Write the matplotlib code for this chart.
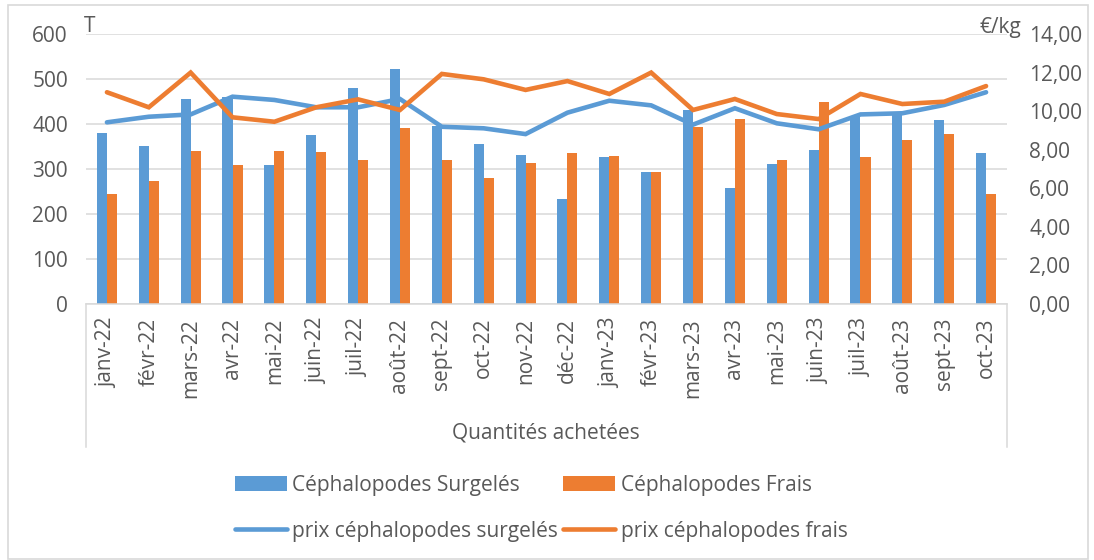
import numpy as np
import matplotlib
matplotlib.use("Agg")
import matplotlib.pyplot as plt
from matplotlib.lines import Line2D
from matplotlib.ticker import FuncFormatter

plt.rcParams["font.family"] = ["Open Sans", "DejaVu Sans"]

# ------------------------------------------------
# Données
# ------------------------------------------------
mois = ["janv-22", "févr-22", "mars-22", "avr-22", "mai-22", "juin-22", "juil-22",
        "août-22", "sept-22", "oct-22", "nov-22", "déc-22", "janv-23", "févr-23",
        "mars-23", "avr-23", "mai-23", "juin-23", "juil-23", "août-23", "sept-23", "oct-23"]

qte_surgeles = [379, 352, 455, 460, 308, 375, 480, 522, 395, 355, 332,
                233, 327, 293, 431, 258, 312, 342, 416, 420, 409, 335]
qte_frais = [244, 273, 341, 308, 341, 337, 319, 392, 319, 280, 314,
             336, 329, 293, 393, 411, 320, 450, 326, 364, 378, 244]

prix_surgeles = [9.42, 9.71, 9.83, 10.75, 10.58, 10.20, 10.20, 10.63, 9.19, 9.11, 8.81,
                 9.92, 10.54, 10.30, 9.30, 10.15, 9.37, 9.06, 9.83, 9.89, 10.32, 10.98]
prix_frais = [10.98, 10.20, 12.00, 9.68, 9.45, 10.20, 10.61, 10.06, 11.93, 11.65, 11.10,
              11.56, 10.89, 12.00, 10.06, 10.63, 9.85, 9.59, 10.89, 10.37, 10.49, 11.30]

BLEU = "#5B9BD5"
ORANGE = "#ED7D31"
GRIS_TXT = "#595959"
GRIS_LIGNE = "#D9D9D9"
FS = 15

# ------------------------------------------------
# Figure
# ------------------------------------------------
fig = plt.figure(figsize=(10.94, 5.6), dpi=100)
ax = fig.add_axes([86 / 1094, 1 - 304 / 560, (1007 - 86) / 1094, 270 / 560])
ax2 = ax.twinx()

x = np.arange(len(mois))
w = 0.24
b1 = ax.bar(x - w / 2, qte_surgeles, w, color=BLEU, label="Céphalopodes Surgelés", zorder=2)
b2 = ax.bar(x + w / 2, qte_frais, w, color=ORANGE, label="Céphalopodes Frais", zorder=2)

l1, = ax2.plot(x, prix_surgeles, color=BLEU, lw=3.3, solid_capstyle="round",
               solid_joinstyle="miter", label="prix céphalopodes surgelés")
l2, = ax2.plot(x, prix_frais, color=ORANGE, lw=3.3, solid_capstyle="round",
               solid_joinstyle="miter", label="prix céphalopodes frais")

ax.set_xlim(-0.5, len(mois) - 0.5)
ax.set_ylim(0, 600)
ax.set_yticks(range(0, 601, 100))
ax2.set_ylim(0, 14)
ax2.set_yticks(range(0, 15, 2))
ax2.yaxis.set_major_formatter(FuncFormatter(lambda v, p: f"{v:.2f}".replace(".", ",")))

ax.yaxis.grid(True, color=GRIS_LIGNE, lw=1.1, zorder=0)
ax.set_axisbelow(True)
for a in (ax, ax2):
    for s in a.spines.values():
        s.set_visible(False)
ax.spines["bottom"].set_visible(True)
ax.spines["bottom"].set_color(GRIS_LIGNE)
ax.spines["bottom"].set_linewidth(1.1)

ax.set_xticks(x)
ax.set_xticklabels(mois, rotation=90, fontsize=FS, color=GRIS_TXT)
ax.tick_params(axis="x", length=0, pad=10)
ax.tick_params(axis="y", length=0, pad=13, labelsize=FS, labelcolor=GRIS_TXT)
ax2.tick_params(axis="y", length=0, pad=16, labelsize=FS, labelcolor=GRIS_TXT)

# cadre de l'axe des catégories
for xp in (86, 1007):
    fig.add_artist(Line2D([xp / 1094, xp / 1094], [1 - 304 / 560, 1 - 447 / 560],
                          transform=fig.transFigure, color=GRIS_LIGNE, lw=1.1))
fig.text(546 / 1094, 1 - 433 / 560, "Quantités achetées", ha="center", va="center",
         fontsize=FS, color=GRIS_TXT)

# unités
fig.text(84 / 1094, 1 - 27 / 560, "T", ha="left", va="center", fontsize=FS, color=GRIS_TXT)
fig.text(1021 / 1094, 1 - 27 / 560, "€/kg", ha="right", va="center", fontsize=FS, color=GRIS_TXT)

# légende
fig.legend([b1, l1, b2, l2],
           [b1.get_label(), l1.get_label(), b2.get_label(), l2.get_label()],
           ncol=2, loc="center left", bbox_to_anchor=(235 / 1094, 1 - 508 / 560),
           frameon=False, fontsize=FS, labelcolor=GRIS_TXT, handlelength=2.5,
           handleheight=0.7, handletextpad=0.25, columnspacing=0.25, labelspacing=1.2,
           borderaxespad=0, borderpad=0)

# cadre du graphique
fig.add_artist(plt.Rectangle((8 / 1094, 0.002), 1080 / 1094, 1 - 5 / 560 - 0.002,
                             transform=fig.transFigure, fill=False, ec=GRIS_LIGNE, lw=1.2))

fig.savefig("out.png", dpi=100)
